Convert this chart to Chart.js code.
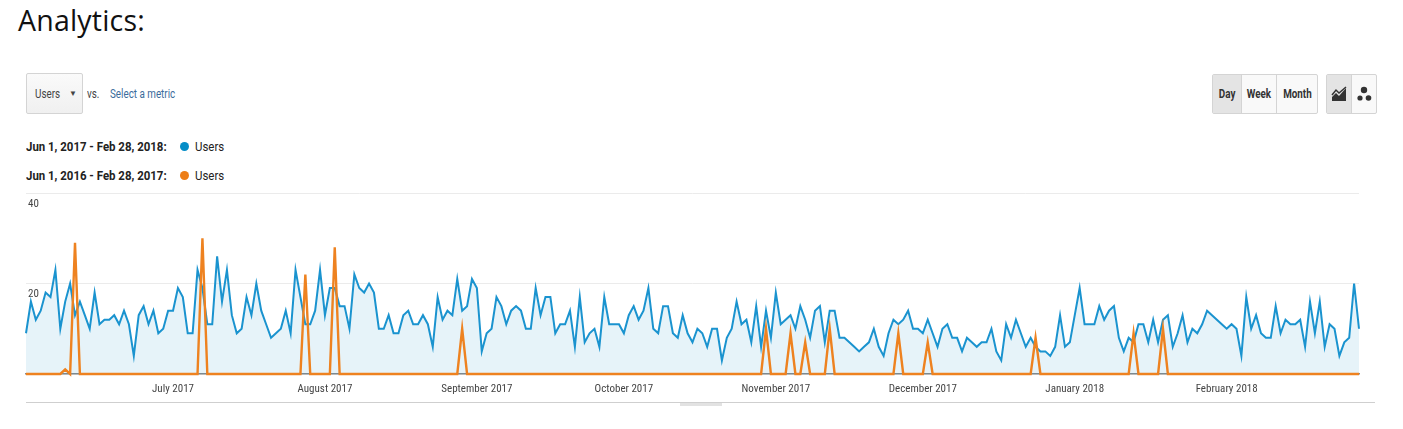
<!DOCTYPE html>
<html lang="en">
<head>
    <meta charset="UTF-8">
    <title>Analytics</title>
    <script src="https://cdn.jsdelivr.net/npm/chart.js"></script>
    <style>
        body {
            margin: 0;
            width: 1403px;
            height: 429px;
            background: #fff;
            position: relative;
            overflow: hidden;
            font-family: Roboto, Arial, sans-serif;
        }
        .abs { position: absolute; white-space: nowrap; }
        .narrow { transform: scaleX(0.82); transform-origin: 0 50%; display: inline-block; }
        #title {
            left: 18px; top: 1px;
            font-family: 'Open Sans', sans-serif;
            font-size: 28.5px;
            letter-spacing: 0.2px;
            color: #111;
        }
        #metric {
            left: 26px; top: 73px; width: 55px; height: 39px;
            border: 1px solid #d4d4d4; border-radius: 2px;
            background: linear-gradient(#fafafa, #f0f0f0);
            font-size: 12px; color: #444;
        }
        #metric span { position: absolute; top: 13px; }
        .small { font-size: 12px; top: 87px; }
        .legend { font-size: 13px; color: #222; }
        .legend b { font-weight: bold; }
        .dot {
            width: 9px; height: 9px; border-radius: 50%;
        }
        .btns {
            top: 74px; height: 38px;
            border: 1px solid #d4d4d4; border-radius: 2px;
            background: #f9f9f9; display: flex;
        }
        .btns div {
            height: 38px; line-height: 38px; text-align: center;
            font-size: 12px; font-weight: bold; color: #333;
            border-right: 1px solid #d4d4d4;
        }
        .btns div:last-child { border-right: none; }
        .btns .on { background: #e4e4e4; }
        .btns span { display: inline-block; transform: scaleX(0.82); }
        #chartBox {
            left: 0; top: 180px; width: 1403px; height: 225px;
        }
    </style>
</head>
<body>
    <div class="abs" id="title">Analytics:</div>

    <div class="abs" id="metric">
        <span style="left:8px" class="narrow">Users</span>
        <span style="left:42px;font-size:8px;top:15px">&#9660;</span>
    </div>
    <div class="abs small" style="left:87px;color:#444"><span class="narrow">vs.</span></div>
    <div class="abs small" style="left:110px;color:#3b6c9c"><span class="narrow">Select a metric</span></div>

    <div class="abs legend" style="left:26px;top:139px"><b class="narrow" style="transform:scaleX(0.88)">Jun 1, 2017 - Feb 28, 2018:</b></div>
    <div class="abs dot" style="left:180px;top:142px;background:#058dc7"></div>
    <div class="abs legend" style="left:195px;top:139px"><span class="narrow" style="transform:scaleX(0.88)">Users</span></div>
    <div class="abs legend" style="left:26px;top:168px"><b class="narrow" style="transform:scaleX(0.88)">Jun 1, 2016 - Feb 28, 2017:</b></div>
    <div class="abs dot" style="left:180px;top:171px;background:#ed7e17"></div>
    <div class="abs legend" style="left:195px;top:168px"><span class="narrow" style="transform:scaleX(0.88)">Users</span></div>

    <div class="abs btns" style="left:1212px;width:104px">
        <div class="on" style="width:28px"><span>Day</span></div>
        <div style="width:35px"><span>Week</span></div>
        <div style="width:40px"><span>Month</span></div>
    </div>
    <div class="abs btns" style="left:1326px;width:49px">
        <div class="on" style="width:24px">
            <svg width="16" height="16" viewBox="0 0 16 16" style="margin-top:11px">
                <path d="M1 15 L1 11 L5 7 L8 10 L15 2 L15 15 Z" fill="#333"/>
                <path d="M1 9 L5 4 L8 7 L15 1" stroke="#333" stroke-width="1.5" fill="none"/>
            </svg>
        </div>
        <div style="width:24px">
            <svg width="16" height="16" viewBox="0 0 16 16" style="margin-top:11px">
                <circle cx="8" cy="4" r="3.2" fill="#333"/>
                <circle cx="4" cy="12" r="2.6" fill="#333"/>
                <circle cx="12.5" cy="12" r="2.8" fill="#333"/>
            </svg>
        </div>
    </div>

    <div class="abs" id="chartBox"><canvas id="usersChart"></canvas></div>

    <div class="abs" style="left:26px;top:402px;width:1349px;height:1px;background:#cfcfcf"></div>
    <div class="abs" style="left:680px;top:403px;width:42px;height:3px;background:#e2e2e2"></div>

    <script>
        // Users per day, Jun 1 2017 - Feb 28 2018
        var usersCurrent = [
            9, 16, 12, 14, 18, 17, 23, 10, 16, 20, 13, 16, 13, 10, 18, 11, 12, 12, 13, 11,
            14, 11, 4, 13, 15, 11, 14, 9, 10, 14, 14, 19, 17, 9, 9, 23, 19, 11, 11, 26,
            16, 23, 13, 9, 10, 17, 13, 20, 14, 11, 8, 9, 10, 14, 9, 23, 17, 11, 11, 14,
            23, 13, 19, 19, 15, 15, 10, 22, 19, 18, 20, 18, 10, 10, 13, 9, 9, 13, 14, 11,
            11, 13, 11, 6, 17, 12, 14, 13, 21, 14, 15, 21, 19, 5, 9, 10, 17, 15, 11, 14,
            15, 14, 10, 10, 19, 13, 17, 17, 9, 11, 11, 14, 6, 17, 7, 9, 10, 6, 17, 11,
            11, 11, 9, 13, 15, 12, 14, 19, 10, 9, 15, 15, 9, 8, 13, 9, 7, 10, 9, 6,
            10, 10, 3, 8, 10, 16, 11, 12, 7, 15, 6, 14, 8, 18, 11, 12, 13, 10, 15, 12,
            8, 14, 15, 7, 14, 14, 8, 8, 7, 6, 5, 6, 7, 10, 6, 4, 9, 12, 11, 12,
            14, 10, 10, 9, 12, 9, 6, 10, 11, 8, 8, 5, 8, 7, 6, 7, 7, 10, 5, 3,
            11, 8, 12, 9, 6, 8, 6, 5, 5, 4, 6, 13, 6, 7, 13, 19, 11, 11, 11, 15,
            12, 14, 15, 8, 5, 8, 7, 11, 11, 7, 12, 7, 12, 13, 6, 9, 13, 7, 10, 9,
            11, 14, 13, 12, 11, 10, 11, 10, 4, 17, 10, 13, 9, 8, 8, 15, 9, 12, 11, 11,
            12, 6, 16, 9, 16, 6, 11, 10, 4, 7, 8, 20, 10
        ];

        // Users per day, Jun 1 2016 - Feb 28 2017 (zero except these days)
        var previousDays = [8, 10, 36, 57, 63, 89, 151, 156, 159, 164, 178, 184, 206, 226, 232];
        var previousValues = [1, 29, 30, 22, 28, 10, 10, 9, 7, 10, 9, 7, 8, 9, 10];

        var monthNames = ['January', 'February', 'March', 'April', 'May', 'June', 'July',
            'August', 'September', 'October', 'November', 'December'];
        var yTicks = [20, 40];

        var startDate = new Date(2017, 5, 1);
        var dayLabels = [];
        for (var i = 0; i < usersCurrent.length; i++) {
            var d = new Date(startDate.getFullYear(), startDate.getMonth(), startDate.getDate() + i);
            dayLabels.push(d);
        }

        var usersPrevious = usersCurrent.map(function () { return 0; });
        previousDays.forEach(function (day, k) { usersPrevious[day] = previousValues[k]; });

        var font = { family: "'Roboto Condensed', 'Liberation Sans Narrow', Roboto, Arial, sans-serif", size: 11 };

        var ctx = document.getElementById('usersChart').getContext('2d');
        var usersChart = new Chart(ctx, {
            type: 'line',
            data: {
                labels: dayLabels,
                datasets: [{
                    label: 'Jun 1, 2016 - Feb 28, 2017: Users',
                    data: usersPrevious,
                    borderColor: '#ee8220',
                    borderWidth: 2.4,
                    pointRadius: 0,
                    fill: false,
                    clip: false,
                    tension: 0
                }, {
                    label: 'Jun 1, 2017 - Feb 28, 2018: Users',
                    data: usersCurrent,
                    borderColor: '#1a93cf',
                    backgroundColor: 'rgba(5, 141, 199, 0.1)',
                    borderWidth: 2,
                    pointRadius: 0,
                    fill: 'origin',
                    tension: 0
                }]
            },
            options: {
                responsive: true,
                maintainAspectRatio: false,
                animation: false,
                layout: { padding: { left: 26, right: 44, top: 13, bottom: 0 } },
                plugins: { legend: { display: false }, tooltip: { enabled: false } },
                scales: {
                    x: {
                        offset: false,
                        grid: { display: false, drawTicks: false },
                        border: { display: true, color: '#8a8a8a', width: 1.5 },
                        ticks: {
                            autoSkip: false,
                            maxRotation: 0,
                            minRotation: 0,
                            padding: 9,
                            color: '#444',
                            font: font,
                            callback: function (value, index) {
                                var d = dayLabels[index];
                                if (index > 0 && d.getDate() === 1) {
                                    return monthNames[d.getMonth()] + ' ' + d.getFullYear();
                                }
                                return '';
                            }
                        },
                        afterFit: function (scale) { scale.height = 31; }
                    },
                    y: {
                        min: 0,
                        max: 40,
                        grid: { color: '#ebebeb', drawTicks: false },
                        border: { display: false },
                        ticks: {
                            stepSize: 20,
                            mirror: true,
                            padding: 2,
                            labelOffset: 11,
                            color: '#444',
                            font: font,
                            callback: function (value) {
                                return yTicks.indexOf(value) >= 0 ? value : '';
                            }
                        },
                        afterFit: function (scale) { scale.width = 0; }
                    }
                }
            }
        });
    </script>
</body>
</html>
